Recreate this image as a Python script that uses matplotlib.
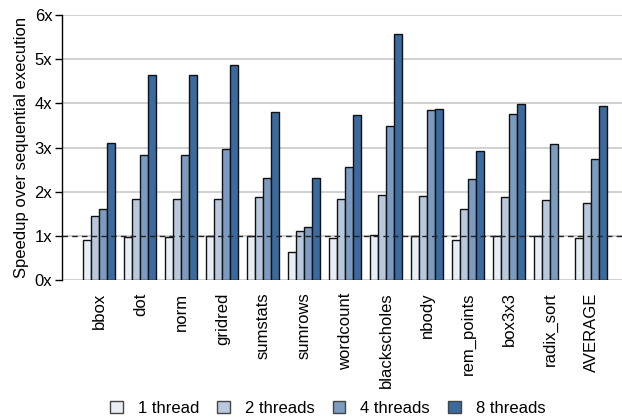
import matplotlib
matplotlib.use('Agg')
import matplotlib.pyplot as plt
import numpy as np

plt.rcParams['font.family'] = ['Liberation Sans', 'DejaVu Sans']

# benchmark names and speedups
benchmarks = ['bbox', 'dot', 'norm', 'gridred', 'sumstats', 'sumrows', 'wordcount',
              'blackscholes', 'nbody', 'rem_points', 'box3x3', 'radix_sort', 'AVERAGE']
thread_1 = [0.90, 0.97, 0.97, 0.99, 0.99, 0.64, 0.95, 1.02, 1.00, 0.90, 1.00, 1.00, 0.94]
thread_2 = [1.46, 1.83, 1.83, 1.83, 1.88, 1.12, 1.83, 1.92, 1.91, 1.60, 1.89, 1.82, 1.74]
thread_4 = [1.61, 2.84, 2.84, 2.97, 2.32, 1.19, 2.57, 3.48, 3.84, 2.28, 3.75, 3.09, 2.73]
thread_8 = [3.10, 4.65, 4.65, 4.87, 3.81, 2.30, 3.74, 5.58, 3.87, 2.93, 3.98, np.nan, 3.95]

series = [thread_1, thread_2, thread_4, thread_8]
labels = ['1 thread', '2 threads', '4 threads', '8 threads']
colors = ['#e8eef6', '#b9c9dd', '#7b9bc0', '#3a6a9e']

fig = plt.figure(figsize=(6.22, 4.19), dpi=100)
ax = fig.add_axes([0.0997, 0.3317, 0.9003, 0.6325])

x = np.arange(len(benchmarks))
w = 0.195
for i, (vals, lab, c) in enumerate(zip(series, labels, colors)):
    ax.bar(x + (i - 1.5) * w, vals, w, color=c, edgecolor='#111111',
           linewidth=1.0, label=lab, zorder=3)

ax.axhline(1, color='#222222', ls=(0, (4, 3)), lw=1.0, zorder=4)

ax.set_ylim(0, 6)
ax.set_xlim(-0.91, 12.75)
ax.set_yticks(range(7))
ax.set_yticklabels([f'{i}x' for i in range(7)], fontsize=12)
ax.set_xticks(x)
ax.set_xticklabels(benchmarks, rotation=90, fontsize=12)
ax.tick_params(axis='x', length=0, pad=9)
ax.tick_params(axis='y', length=5, width=1, direction='out', pad=2)
ax.set_ylabel('Speedup over sequential execution', fontsize=12, labelpad=4)
ax.yaxis.grid(True, color='#c8c8c8', lw=1.2, zorder=0)
ax.set_axisbelow(True)
for s in ['top', 'right', 'bottom']:
    ax.spines[s].set_visible(False)
ax.spines['left'].set_linewidth(1.0)

leg = fig.legend(loc='lower center', bbox_to_anchor=(0.527, -0.028), ncol=4,
                 frameon=False, fontsize=12, handlelength=0.75, handleheight=0.68,
                 columnspacing=1.1, handletextpad=0.9)
for h in leg.legend_handles:
    h.set_edgecolor('#444444')

fig.savefig('out.png', dpi=100)
